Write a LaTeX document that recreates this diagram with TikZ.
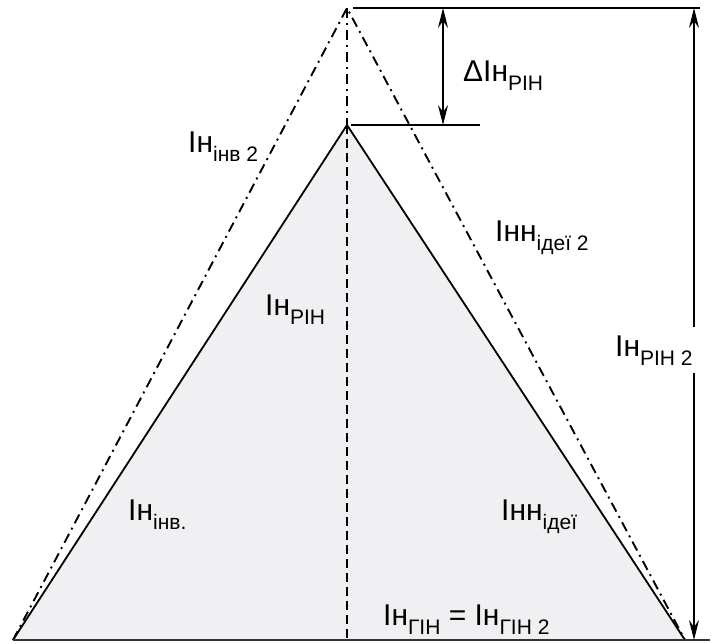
\documentclass[tikz,border=0pt]{standalone}
\usepackage{fontspec}
\setmainfont{Liberation Sans}
\usetikzlibrary{arrows.meta}
\definecolor{pyrfill}{HTML}{F0F0F3}
\newcommand{\lowsub}[1]{\raisebox{-0.3em}{\fontsize{21}{21}\selectfont #1}}

\begin{document}
\begin{tikzpicture}[x=1pt, y=-1pt,
  lbl/.style={anchor=base west, inner sep=0pt, font=\fontsize{30}{34}\selectfont},
  edge/.style={line width=1.8pt},
  guide/.style={line width=1.9pt, dash pattern=on 10pt off 5pt on 2pt off 5pt},
  axisline/.style={line width=1.6pt, dash pattern=on 9pt off 5pt},
  dimline/.style={line width=1.2pt},
  dimarrow/.style={line width=1.2pt,
    {Stealth[length=20pt,width=10pt,inset=7pt]}-{Stealth[length=20pt,width=10pt,inset=7pt]}}
]
  \useasboundingbox (0,0) rectangle (712,643);

  \coordinate (bl) at (13,640);
  \coordinate (br) at (685,640);
  \coordinate (apex) at (347,125);
  \coordinate (apex2) at (347,8);
  \coordinate (foot) at (347,640);
  \coordinate (baseend) at (710,640);
  \coordinate (ext2) at (700,8);
  \coordinate (ext1) at (480,125);
  \coordinate (da) at (443,8);
  \coordinate (db) at (443,125);
  \coordinate (ra) at (694,8);
  \coordinate (rb) at (694,640);

  \fill[pyrfill] (bl) -- (apex) -- (br) -- cycle;
  \draw[guide] (bl) -- (apex2) -- (br);
  \draw[guide] (apex2) -- (apex);
  \draw[axisline] (apex) -- (foot);
  \draw[edge] (bl) -- (apex) -- (br);
  \draw[line width=2.4pt, black!80] (bl) -- (baseend);

  \draw[dimline] ([xshift=6pt]apex2) -- (ext2);
  \draw[dimline] ([xshift=4pt]apex) -- (ext1);
  \draw[dimarrow] (da) -- (db);
  \draw[dimarrow] (ra) -- (rb);

  \node[lbl] (inv2) at (188,152) {Ін\lowsub{інв 2}};
  \node[lbl] (idei2) at (495,241) {Інн\lowsub{ідеї 2}};
  \node[lbl] (rin) at (265,315) {Ін\lowsub{РІН}};
  \node[lbl, fill=white, inner xsep=3pt, inner ysep=8pt] (rin2) at (612,356) {Ін\lowsub{РІН 2}};
  \node[lbl] (drin) at (463,81) {ΔІн\lowsub{РІН}};
  \node[lbl] (inv) at (128,520) {Ін\lowsub{інв.}};
  \node[lbl] (idei) at (501,520) {Інн\lowsub{ідеї}};
  \node[lbl] (gin) at (383,625) {Ін\lowsub{ГІН} = Ін\lowsub{ГІН 2}};
\end{tikzpicture}
\end{document}
